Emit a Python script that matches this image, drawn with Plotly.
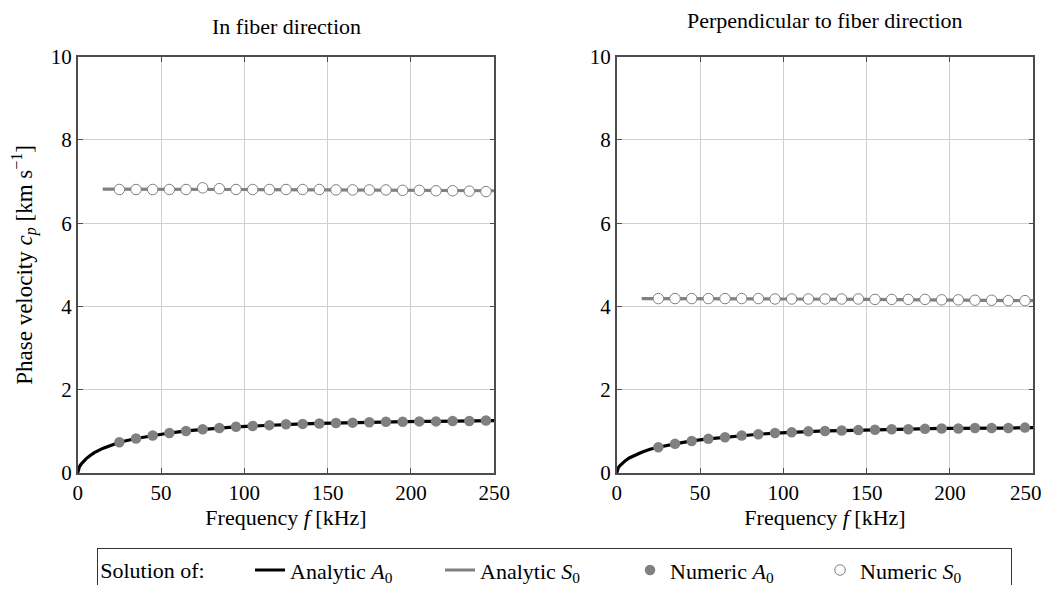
import plotly.graph_objects as go

# ---------------- data ----------------
f_num = [25, 35, 45, 55, 65, 75, 85, 95, 105, 115, 125, 135, 145, 155, 165, 175, 185, 195, 205, 215, 225, 235, 245]

# In fiber direction
fib_A0_num = [0.74, 0.83, 0.90, 0.96, 1.01, 1.05, 1.08, 1.11, 1.13, 1.15, 1.17, 1.18, 1.19, 1.20, 1.21, 1.22, 1.23, 1.23, 1.24, 1.24, 1.25, 1.25, 1.26]
fib_S0_num = [6.81, 6.81, 6.81, 6.81, 6.81, 6.85, 6.83, 6.81, 6.81, 6.81, 6.81, 6.81, 6.81, 6.80, 6.80, 6.80, 6.80, 6.79, 6.79, 6.78, 6.78, 6.77, 6.76]

# Perpendicular to fiber direction
per_A0_num = [0.62, 0.70, 0.77, 0.82, 0.86, 0.90, 0.93, 0.96, 0.98, 1.00, 1.01, 1.02, 1.03, 1.04, 1.05, 1.05, 1.06, 1.07, 1.07, 1.08, 1.08, 1.08, 1.09]
per_S0_num = [4.19, 4.19, 4.19, 4.19, 4.19, 4.19, 4.19, 4.18, 4.18, 4.18, 4.18, 4.18, 4.18, 4.17, 4.17, 4.17, 4.17, 4.16, 4.16, 4.15, 4.15, 4.14, 4.14]

# analytic curves
f_an_A0 = [0, 0.5, 1, 2, 3, 5, 7.5, 10, 15, 20, 25, 35, 45, 55, 65, 75, 85, 95, 105, 115, 125, 135, 145, 155, 165, 175, 185, 195, 205, 215, 225, 235, 245, 250]
fib_A0_an = [0, 0.10, 0.15, 0.21, 0.26, 0.34, 0.42, 0.49, 0.59, 0.67, 0.74, 0.83, 0.90, 0.96, 1.01, 1.05, 1.08, 1.11, 1.13, 1.15, 1.17, 1.18, 1.19, 1.20, 1.21, 1.22, 1.23, 1.23, 1.24, 1.24, 1.25, 1.25, 1.26, 1.26]
per_A0_an = [0, 0.09, 0.13, 0.18, 0.22, 0.29, 0.36, 0.41, 0.50, 0.57, 0.62, 0.70, 0.77, 0.82, 0.86, 0.90, 0.93, 0.96, 0.98, 1.00, 1.01, 1.02, 1.03, 1.04, 1.05, 1.05, 1.06, 1.07, 1.07, 1.08, 1.08, 1.08, 1.09, 1.09]

f_an_S0 = [15, 50, 100, 150, 200, 250]
fib_S0_an = [6.82, 6.82, 6.81, 6.80, 6.79, 6.78]
per_S0_an = [4.19, 4.19, 4.18, 4.17, 4.16, 4.14]

x_ticks = [0, 50, 100, 150, 200, 250]
y_ticks = [0, 2, 4, 6, 8, 10]

panel_titles = ["In fiber direction", "Perpendicular to fiber direction"]
x_title = "Frequency <i>f</i> [kHz]"
y_title = "Phase velocity <i>c</i><sub><i>p</i></sub> [km s<sup>−1</sup>]"
legend_title = "Solution of:"

# ---------------- style / layout ----------------
FONT = "Times New Roman, Liberation Serif, serif"
FS = 21
TF = 22
BLACK = "#000000"
GRAY = "#808080"

OFF = 8  # page body margin
W, H = 1053 - 2 * OFF, 593 - 2 * OFF


def px(x):
    return (x - OFF) / W


def py(y):
    return 1 - (y - OFF) / H


fig = go.Figure()

panels = [
    ("x", "y", fib_A0_an, fib_S0_an, fib_A0_num, fib_S0_num, True),
    ("x2", "y2", per_A0_an, per_S0_an, per_A0_num, per_S0_num, False),
]

for xa, ya, a0an, s0an, a0n, s0n, show in panels:
    fig.add_trace(go.Scatter(x=f_an_A0, y=a0an, mode="lines", line=dict(color=BLACK, width=3.2),
                             name="Analytic <i>A</i><sub>0</sub>", legendgroup="a0", showlegend=show,
                             xaxis=xa, yaxis=ya))
    fig.add_trace(go.Scatter(x=f_an_S0, y=s0an, mode="lines", line=dict(color=GRAY, width=3.2),
                             name="Analytic <i>S</i><sub>0</sub>", legendgroup="s0", showlegend=show,
                             xaxis=xa, yaxis=ya))
    fig.add_trace(go.Scatter(x=f_num, y=a0n, mode="markers",
                             marker=dict(color=GRAY, size=10.5, line=dict(width=0)),
                             name="Numeric <i>A</i><sub>0</sub>", legendgroup="na0", showlegend=show,
                             xaxis=xa, yaxis=ya, cliponaxis=False))
    fig.add_trace(go.Scatter(x=f_num, y=s0n, mode="markers",
                             marker=dict(color="white", size=10.5, line=dict(color=GRAY, width=1)),
                             name="Numeric <i>S</i><sub>0</sub>", legendgroup="ns0", showlegend=show,
                             xaxis=xa, yaxis=ya, cliponaxis=False))

ydom = [py(473), py(56.7)]
xdom1 = [px(77.7), px(494.3)]
xdom2 = [px(616.7), px(1033.3)]

axis_common = dict(
    showgrid=True, gridcolor="#cfcfcf", gridwidth=1,
    showline=True, linecolor="#4d4d4d", linewidth=1.6, mirror="ticks",
    ticks="inside", ticklen=5, tickcolor="#4d4d4d", tickwidth=1,
    zeroline=False, automargin=False, ticklabeloverflow="allow",
    tickfont=dict(family=FONT, size=FS, color="black"),
)

# right panel: last x tick label drawn as an annotation so it stays inside the page
x2_ticktext = [str(v) for v in x_ticks[:-1]] + [""]

fig.update_layout(
    width=W, height=H,
    margin=dict(l=0, r=0, t=0, b=0, autoexpand=False),
    paper_bgcolor="white", plot_bgcolor="white",
    font=dict(family=FONT, size=FS, color="black"),
    xaxis=dict(domain=xdom1, range=[0, 250], tickvals=x_ticks, anchor="y",
               title=dict(text=x_title, font=dict(family=FONT, size=TF), standoff=0), **axis_common),
    yaxis=dict(domain=ydom, range=[0, 10], tickvals=y_ticks, anchor="x",
               title=dict(text=y_title, font=dict(family=FONT, size=23), standoff=16), **axis_common),
    xaxis2=dict(domain=xdom2, range=[0, 250], tickvals=x_ticks, ticktext=x2_ticktext, anchor="y2",
                title=dict(text=x_title, font=dict(family=FONT, size=TF), standoff=0), **axis_common),
    yaxis2=dict(domain=ydom, range=[0, 10], tickvals=y_ticks, anchor="x2", **axis_common),
    showlegend=True,
    legend=dict(
        orientation="h", x=px(97), xanchor="left", y=py(548), yanchor="top",
        title=dict(text=legend_title + "&nbsp;" * 7, font=dict(family=FONT, size=TF)),
        font=dict(family=FONT, size=TF),
        bordercolor="#333333", borderwidth=1.2, bgcolor="white",
        entrywidth=145, tracegroupgap=0,
    ),
    annotations=[
        dict(text=panel_titles[0], x=(xdom1[0] + xdom1[1]) / 2, y=py(27), xref="paper", yref="paper",
             showarrow=False, font=dict(family=FONT, size=TF), xanchor="center", yanchor="middle"),
        dict(text=panel_titles[1], x=(xdom2[0] + xdom2[1]) / 2, y=py(20), xref="paper", yref="paper",
             showarrow=False, font=dict(family=FONT, size=TF), xanchor="center", yanchor="middle"),
        dict(text=str(x_ticks[-1]), x=1, y=py(493), xref="paper", yref="paper",
             showarrow=False, font=dict(family=FONT, size=FS), xanchor="right", yanchor="middle",
             xshift=-1),
    ],
)

fig.write_html("out.html")
